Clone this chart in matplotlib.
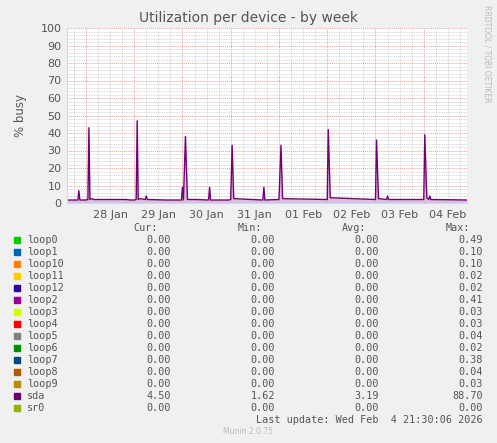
import matplotlib
matplotlib.use("Agg")
import matplotlib.pyplot as plt
import numpy as np

# hours relative to 28 Jan 00:00
hours = [-9.4, -4, -3.5, -3, 0, 1, 1.5, 2, 3, 4, 20, 22, 24, 25, 25.5, 26, 27, 29.5, 30, 30.5, 40,
         47.5, 48, 48.5, 49.5, 50.5, 55, 61, 61.5, 62, 71, 72, 72.7, 73.5, 88, 88.5, 89, 96, 97, 97.8,
         120, 120.5, 121.5, 144, 144.5, 145.5, 149.5, 150, 150.5, 168, 168.5, 169.5, 170.5, 171, 171.5, 189.5]
sda = [1.7, 1.7, 7, 1.7, 1.7, 2, 43, 2, 2.5, 2, 2, 1.7, 1.7, 2, 47, 2, 2.5, 2, 4, 2, 1.7,
       1.7, 9, 1.7, 38, 2, 2, 1.7, 9, 1.7, 1.7, 2, 33, 2.5, 1.7, 9, 1.7, 2, 33, 2.5,
       2, 42, 3, 2, 36, 2.5, 2, 4, 2, 2, 39, 3, 2, 4, 2, 1.7]
day_labels = ["28 Jan", "29 Jan", "30 Jan", "31 Jan", "01 Feb", "02 Feb", "03 Feb", "04 Feb"]

names = ["loop0", "loop1", "loop10", "loop11", "loop12", "loop2", "loop3", "loop4", "loop5",
         "loop6", "loop7", "loop8", "loop9", "sda", "sr0"]
colors = ["#00cc00", "#0066b3", "#ff8000", "#ffcc00", "#330099", "#990099", "#ccff00",
          "#ff0000", "#808080", "#008f00", "#00487d", "#b35a00", "#b38f00", "#6b006b", "#8fb300"]
cur = ["0.00"] * 13 + ["4.50", "0.00"]
mins = ["0.00"] * 13 + ["1.62", "0.00"]
avgs = ["0.00"] * 13 + ["3.19", "0.00"]
maxs = ["0.49", "0.10", "0.10", "0.02", "0.02", "0.41", "0.03", "0.03", "0.04", "0.02",
        "0.38", "0.04", "0.03", "88.70", "0.00"]

W, H = 497, 443
fig = plt.figure(figsize=(W / 100, H / 100), dpi=100, facecolor="#f0f0f0")
ax = fig.add_axes([67 / W, 1 - 203 / H, 400 / W, 175 / H], facecolor="white")
ax.plot(hours, sda, color="#730075", lw=1)
ax.fill_between(hours, 0, sda, color="#730075", alpha=0.25, lw=0)
ax.set_xlim(-9.4, 189.5)
ax.set_ylim(0, 100)
ax.set_yticks(range(0, 101, 10))
ax.set_yticks(range(0, 101, 2), minor=True)
ax.set_xticks([24 * i for i in range(8)])
ax.set_xticklabels([])
ax.set_xticks(np.arange(-6, 190, 6), minor=True)
ax.grid(which="minor", color="#cccccc", ls=(0, (1, 1)), lw=0.6)
ax.grid(which="major", color="#e8a0a0", ls=(0, (1, 1)), lw=0.7)
ax.tick_params(which="both", length=0, labelsize=8, colors="#555555", pad=4)
for i, lab in enumerate(day_labels):
    ax.text(24 * i + 12, -4, lab, transform=ax.transData, ha="center", va="top",
            fontsize=8, color="#555555")
for s in ["top", "right"]:
    ax.spines[s].set_visible(False)
ax.spines["left"].set_color("#ccd8ff")
ax.spines["bottom"].set_color("#ccd8ff")
ax.set_ylabel("% busy", fontsize=8.5, color="#555555", labelpad=10)
fig.text(0.5, 1 - 18 / H, "Utilization per device - by week", ha="center", va="center",
         fontsize=10, color="#555555")
fig.text(487 / W, 1 - 5 / H, "RRDTOOL / TOBI OETIKER", rotation=270, ha="center", va="top",
         fontsize=5.5, color="#bbbbbb")

mono = dict(family="DejaVu Sans Mono", fontsize=7.3, color="#555555")
fy = lambda y: 1 - y / H
for x, t in [(158, "Cur:"), (262, "Min:"), (366, "Avg:"), (470, "Max:")]:
    fig.text(x / W, fy(228), t, ha="right", va="center", **mono)
for i, n in enumerate(names):
    y = 240 + 12 * i
    fig.patches.append(plt.Rectangle((14 / W, fy(y + 3)), 6 / W, 6 / H, color=colors[i],
                                     transform=fig.transFigure))
    fig.text(27 / W, fy(y), n, ha="left", va="center", **mono)
    for x, v in [(171, cur[i]), (275, mins[i]), (379, avgs[i]), (483, maxs[i])]:
        fig.text(x / W, fy(y), v, ha="right", va="center", **mono)
fig.text(483 / W, fy(420), "Last update: Wed Feb  4 21:30:06 2026", ha="right", va="center", **mono)
fig.text(248 / W, fy(432), "Munin 2.0.75", ha="center", va="center", fontsize=5.5, color="#bbbbbb")
fig.savefig("out.png", dpi=100, facecolor=fig.get_facecolor())
